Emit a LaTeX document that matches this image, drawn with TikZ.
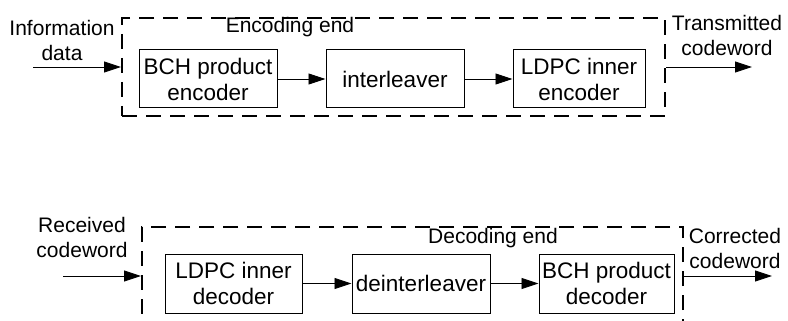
\documentclass[tikz,border=0pt]{standalone}
\usepackage{fontspec}
\setmainfont{Liberation Sans}
\usetikzlibrary{arrows.meta}
\begin{document}
\begin{tikzpicture}[x=1pt,y=-1pt,
  every node/.style={font=\fontsize{21}{25}\selectfont, align=center, inner sep=0pt},
  blockbox/.style={draw, line width=1pt, minimum width=138pt, minimum height=58pt, font=\fontsize{22.5}{26}\selectfont},
  dashbox/.style={draw, line width=2pt, dash pattern=on 15pt off 9pt},
  arr/.style={line width=0.9pt, -{Triangle[length=17pt,width=11pt]}}]
\useasboundingbox (0,0) rectangle (788,321);
\clip (0,0) rectangle (788,321);
% encoding
\node[dashbox, minimum width=543pt, minimum height=98pt] (enc) at (393.5,67) {};
\node[blockbox] (bche) at (208,79) {BCH product\\encoder};
\node[blockbox] (intl) at (395,79) {interleaver};
\node[blockbox, minimum width=132pt] (ldpce) at (579,79) {LDPC inner\\encoder};
\node (infolab) at (62,40) {Information\\data};
\node (enclab) at (290,27) {Encoding end};
\node (txlab) at (727,35) {Transmitted\\codeword};
\coordinate (in1) at (33,67);
\coordinate (out1) at (752,67);
\draw[arr] (in1) -- (in1 -| enc.west);
\draw[arr] (bche) -- (intl);
\draw[arr] (intl) -- (ldpce);
\draw[arr] (out1 -| enc.east) -- (out1);
% decoding
\node[dashbox, minimum width=541pt, minimum height=118pt] (dec) at (412.5,286) {};
\node[blockbox, minimum width=137pt, minimum height=59pt] (ldpcd) at (233.5,283.5) {LDPC inner\\decoder};
\node[blockbox, minimum width=138pt, minimum height=59pt] (dint) at (421,283.5) {deinterleaver};
\node[blockbox, minimum width=135pt, minimum height=59pt] (bchd) at (606.5,283.5) {BCH product\\decoder};
\node (rxlab) at (82,237) {Received\\codeword};
\node (declab) at (493,238) {Decoding end};
\node (corlab) at (735,248.5) {Corrected\\codeword};
\coordinate (in2) at (63,276);
\coordinate (out2) at (772,276);
\draw[arr] (in2) -- (in2 -| dec.west);
\draw[arr] (ldpcd) -- (dint);
\draw[arr] (dint) -- (bchd);
\draw[arr] (out2 -| dec.east) -- (out2);
\end{tikzpicture}
\end{document}
